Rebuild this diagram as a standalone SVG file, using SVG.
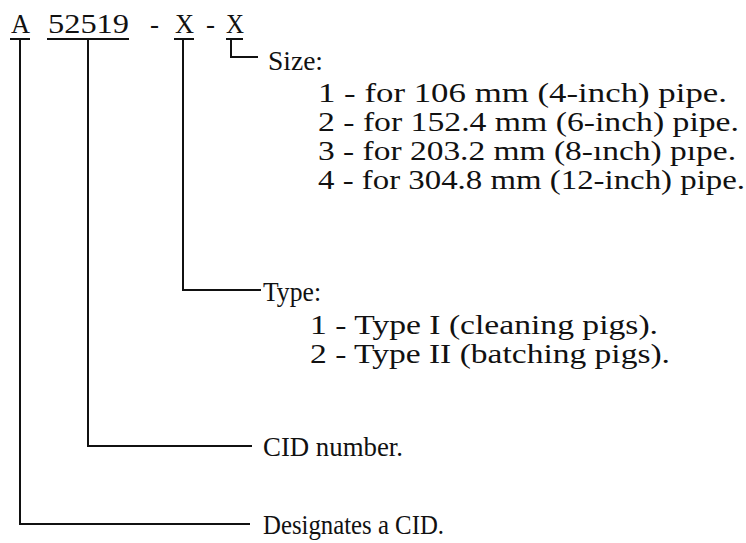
<svg xmlns="http://www.w3.org/2000/svg" width="746" height="543" viewBox="0 0 746 543">
<style>
text{font-family:"Liberation Serif","Times New Roman",serif;font-size:27px;fill:#111}
.ln{stroke:#111;stroke-width:2;fill:none}
</style>
<rect width="746" height="543" fill="#fff"/>
<g id="code">
<text x="11" y="33" textLength="19" lengthAdjust="spacingAndGlyphs">A</text>
<text x="48" y="33" textLength="81" lengthAdjust="spacingAndGlyphs">52519</text>
<text x="150" y="33">-</text>
<text x="175" y="33" textLength="19" lengthAdjust="spacingAndGlyphs">X</text>
<text x="206" y="33">-</text>
<text x="226" y="33" textLength="18" lengthAdjust="spacingAndGlyphs">X</text>
</g>
<g id="connectors" class="ln">
<path d="M10 39H30M20 39V524H250"/>
<path d="M47 39H129M88 39V446H252"/>
<path d="M174 39H194M183 39V290H261"/>
<path d="M226 39H243M231 39V57H258"/>
</g>
<g id="size">
<text x="268" y="70" textLength="55" lengthAdjust="spacingAndGlyphs">Size:</text>
<text x="318" y="102" textLength="409" lengthAdjust="spacingAndGlyphs">1 - for 106 mm (4-inch) pipe.</text>
<text x="318" y="131" textLength="421" lengthAdjust="spacingAndGlyphs">2 - for 152.4 mm (6-inch) pipe.</text>
<text x="318" y="160" textLength="418" lengthAdjust="spacingAndGlyphs">3 - for 203.2 mm (8-ınch) pıpe.</text>
<text x="318" y="189" textLength="427" lengthAdjust="spacingAndGlyphs">4 - for 304.8 mm (12-inch) pipe.</text>
</g>
<g id="type">
<text x="263" y="301" textLength="58" lengthAdjust="spacingAndGlyphs">Type:</text>
<text x="310" y="334" textLength="348" lengthAdjust="spacingAndGlyphs">1 - Type I (cleaning pigs).</text>
<text x="310" y="363" textLength="360" lengthAdjust="spacingAndGlyphs">2 - Type II (batching pigs).</text>
</g>
<g id="cid">
<text x="263" y="456" textLength="140" lengthAdjust="spacingAndGlyphs">CID number.</text>
</g>
<g id="designates">
<text x="263" y="534" textLength="181" lengthAdjust="spacingAndGlyphs">Designates a CID.</text>
</g>
</svg>
